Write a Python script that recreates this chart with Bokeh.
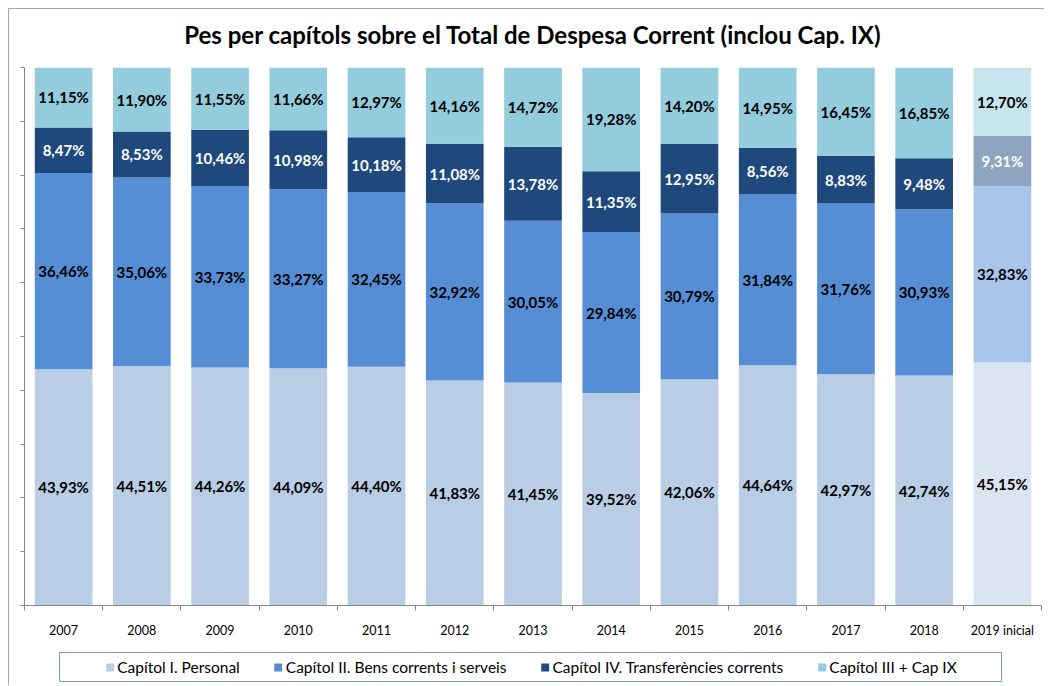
import numpy as np
from bokeh.plotting import figure
from bokeh.layouts import column
from bokeh.models import ColumnDataSource, Range1d, FixedTicker, Legend, LegendItem, Title
from bokeh.core.properties import value
from bokeh.embed import file_html
from bokeh.resources import INLINE

# ---- data ----
title_text = "Pes per capítols sobre el Total de Despesa Corrent (inclou Cap. IX)"
years = ["2007", "2008", "2009", "2010", "2011", "2012", "2013", "2014",
         "2015", "2016", "2017", "2018", "2019 inicial"]
series_names = ["Capítol I. Personal", "Capítol II. Bens corrents i serveis",
                "Capítol IV. Transferències corrents", "Capítol III + Cap IX"]
cap1 = [43.93, 44.51, 44.26, 44.09, 44.40, 41.83, 41.45, 39.52, 42.06, 44.64, 42.97, 42.74, 45.15]
cap2 = [36.46, 35.06, 33.73, 33.27, 32.45, 32.92, 30.05, 29.84, 30.79, 31.84, 31.76, 30.93, 32.83]
cap4 = [8.47, 8.53, 10.46, 10.98, 10.18, 11.08, 13.78, 11.35, 12.95, 8.56, 8.83, 9.48, 9.31]
cap3 = [11.15, 11.90, 11.55, 11.66, 12.97, 14.16, 14.72, 19.28, 14.20, 14.95, 16.45, 16.85, 12.70]
y_ticks = [0, 10, 20, 30, 40, 50, 60, 70, 80, 90, 100]

# ---- styles ----
main_colors = ["#B9CDE5", "#558ED5", "#1F497D", "#93CDDD"]
light_colors = ["#DAE5F1", "#AAC5EA", "#8EA5C0", "#C8E5EE"]
label_colors = ["black", "black", "white", "black"]
FONT = "Lato"

n = len(years)
x = np.arange(n) + 0.5
series = [cap1, cap2, cap4, cap3]

p = figure(frame_width=1017, frame_height=538, x_range=Range1d(0, n), y_range=Range1d(0, 100),
           output_backend="svg", toolbar_location=None, frame_align=False,
           min_border_left=15, min_border_right=3, min_border_top=58, min_border_bottom=40)
p.outline_line_color = None
p.xgrid.visible = False
p.ygrid.visible = False

# spacer between frame and title, then the title itself
p.add_layout(Title(text=" ", text_font_size="6px", standoff=9), "above")
p.add_layout(Title(text=title_text, text_font=FONT, text_font_style="bold",
                   text_font_size="24px", text_color="black", align="center",
                   vertical_align="top", standoff=0), "above")

bottom = np.zeros(n)
for i, vals in enumerate(series):
    v = np.array(vals)
    top = bottom + v
    cols = [main_colors[i]] * (n - 1) + [light_colors[i]]
    src = ColumnDataSource(dict(x=x, bottom=bottom.copy(), top=top, color=cols,
                                mid=bottom + v / 2,
                                lab=[f"{val:.2f}".replace(".", ",") + "%" for val in vals]))
    p.vbar(x="x", bottom="bottom", top="top", width=0.737, fill_color="color",
           line_color=None, source=src)
    p.text(x="x", y="mid", text="lab", source=src, text_align="center",
           text_baseline="middle", text_font=value(FONT),
           text_font_style="bold", text_font_size="15px", text_color=label_colors[i])
    bottom = top

# x axis: labels at centres, tick marks at boundaries
xa = p.xaxis[0]
xa.ticker = FixedTicker(ticks=list(x), minor_ticks=list(range(n + 1)))
xa.major_label_overrides = {float(xx): lab for xx, lab in zip(x, years)}
xa.major_tick_line_color = None
xa.major_tick_out = 0
xa.major_tick_in = 0
xa.minor_tick_out = 5
xa.minor_tick_in = 0
xa.minor_tick_line_color = "#868686"
xa.axis_line_color = "#868686"
xa.major_label_standoff = 12
xa.major_label_text_font = FONT
xa.major_label_text_font_size = "12.5px"
xa.major_label_text_color = "black"

ya = p.yaxis[0]
ya.ticker = FixedTicker(ticks=y_ticks, minor_ticks=[])
ya.major_label_overrides = {t: "" for t in y_ticks}
ya.major_label_standoff = 0
ya.major_tick_out = 4
ya.major_tick_in = 0
ya.major_tick_line_color = "#868686"
ya.axis_line_color = "#868686"

# ---- legend strip (its frame outline is the legend box) ----
lg = figure(frame_width=943, frame_height=29, x_range=Range1d(0, 1), y_range=Range1d(0, 1),
            output_backend="svg", toolbar_location=None, x_axis_type=None, y_axis_type=None,
            frame_align=False,
            min_border_left=50, min_border_right=0, min_border_top=7, min_border_bottom=4)
lg.outline_line_color = "#7F9DB9"
lg.outline_line_width = 1
lg.xgrid.visible = False
lg.ygrid.visible = False
items = []
for name, c in zip(series_names, main_colors):
    # keyed swatch only: the bar sits outside the visible range
    r = lg.vbar(x=[-10], top=[1], width=1, fill_color=c, line_color=None)
    items.append(LegendItem(label=name, renderers=[r], index=0))
legend = Legend(items=items, orientation="horizontal", location="center",
                glyph_width=10, glyph_height=10, label_standoff=3, spacing=33,
                padding=0, margin=0, label_height=17,
                label_text_font=FONT, label_text_font_size="15.5px", label_text_color="black",
                border_line_color=None, background_fill_alpha=0)
lg.add_layout(legend, "center")

layout = column(p, lg, spacing=0)
layout.styles = {"margin-top": "8px", "margin-left": "8px",
                 "border-top": "1px solid #A6A6A6", "border-left": "1px solid #A6A6A6"}

open("out.html", "w").write(file_html(layout, INLINE))
